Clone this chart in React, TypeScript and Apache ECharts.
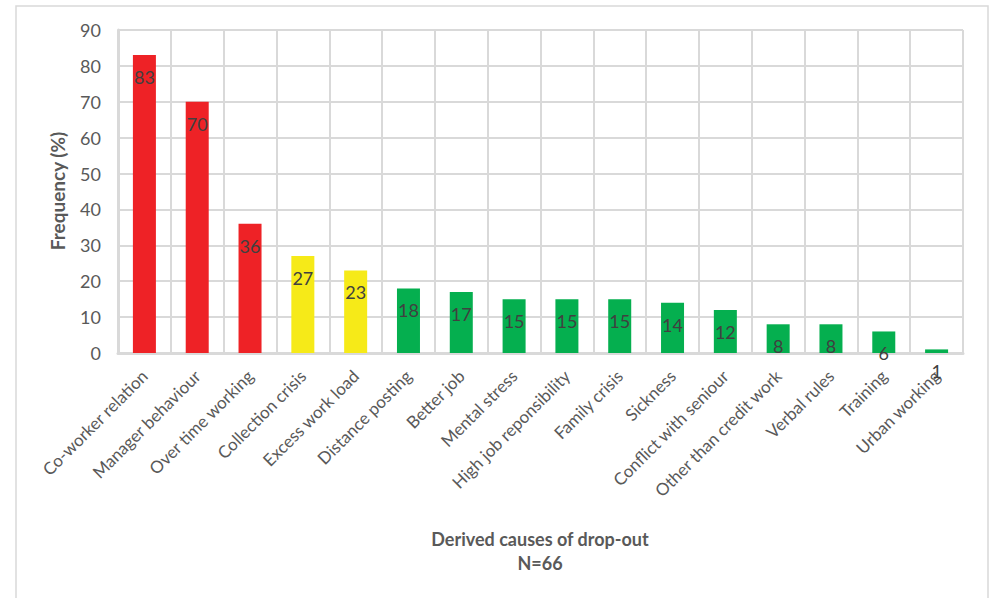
import React, { useEffect, useRef } from "react";
import * as echarts from "echarts";

const categories = [
  "Co-worker relation",
  "Manager behaviour",
  "Over time working",
  "Collection crisis",
  "Excess work load",
  "Distance posting",
  "Better job",
  "Mental stress",
  "High job reponsibility",
  "Family crisis",
  "Sickness",
  "Conflict with seniour",
  "Other than credit work",
  "Verbal rules",
  "Training",
  "Urban working",
];
const values = [83, 70, 36, 27, 23, 18, 17, 15, 15, 15, 14, 12, 8, 8, 6, 1];
const groups = ["red", "red", "red", "yellow", "yellow", "green", "green", "green", "green", "green", "green", "green", "green", "green", "green", "green"];
const groupColors: Record<string, string> = { red: "#ee2226", yellow: "#f6ea18", green: "#05af4f" };
const yTicks = { min: 0, max: 90, interval: 10 };
const yTitle = "Frequency (%)";
const xTitle = "Derived causes of drop-out";
const xSubtitle = "N=66";

const FONT = "Lato, 'Open Sans', sans-serif";
const GRID = "#d9d9d9";

export default function App() {
  const ref = useRef<HTMLDivElement>(null);
  useEffect(() => {
    document.body.style.margin = "0";
    const chart = echarts.init(ref.current!, null, { renderer: "svg" });
    chart.setOption({
      animation: false,
      backgroundColor: "#fff",
      textStyle: { fontFamily: FONT },
      grid: { left: 118, right: 30, top: 30, bottom: 245, containLabel: false },
      graphic: [
        {
          type: "rect",
          shape: { x: 16, y: 6, width: 972, height: 620 },
          style: { fill: "none", stroke: GRID, lineWidth: 1.5 },
          silent: true,
        },
        {
          type: "text",
          x: 540,
          y: 539,
          style: { text: xTitle, textAlign: "center", textVerticalAlign: "middle", font: `bold 18px ${FONT}`, fill: "#595959" },
        },
        {
          type: "text",
          x: 540,
          y: 563,
          style: { text: xSubtitle, textAlign: "center", textVerticalAlign: "middle", font: `bold 18px ${FONT}`, fill: "#595959" },
        },
        {
          type: "text",
          x: 57,
          y: 191,
          rotation: Math.PI / 2,
          style: { text: yTitle, textAlign: "center", textVerticalAlign: "middle", font: `bold 19px ${FONT}`, fill: "#595959" },
        },
      ],
      xAxis: {
        type: "category",
        data: categories,
        axisLine: { show: true, lineStyle: { color: GRID, width: 3 } },
        axisTick: { show: false },
        splitLine: { show: true, lineStyle: { color: GRID, width: 2 } },
        axisLabel: { rotate: 45, color: "#595959", fontSize: 17, fontFamily: FONT, margin: 20, interval: 0 },
      },
      yAxis: {
        type: "value",
        min: yTicks.min,
        max: yTicks.max,
        interval: yTicks.interval,
        axisLine: { show: true, lineStyle: { color: GRID, width: 3 } },
        axisTick: { show: false },
        splitLine: { show: true, lineStyle: { color: GRID, width: 2 } },
        axisLabel: { color: "#595959", fontSize: 18, fontFamily: FONT, margin: 17 },
      },
      series: [
        {
          type: "bar",
          barWidth: 23,
          data: values.map((v, i) => ({ value: v, itemStyle: { color: groupColors[groups[i]] } })),
          label: {
            show: true,
            position: "insideTop",
            distance: 0,
            offset: [0, 13],
            color: "#404040",
            fontSize: 18,
            fontFamily: FONT,
          },
        },
      ],
    });
    return () => chart.dispose();
  }, []);
  return <div ref={ref} style={{ width: 993, height: 598 }} />;
}
